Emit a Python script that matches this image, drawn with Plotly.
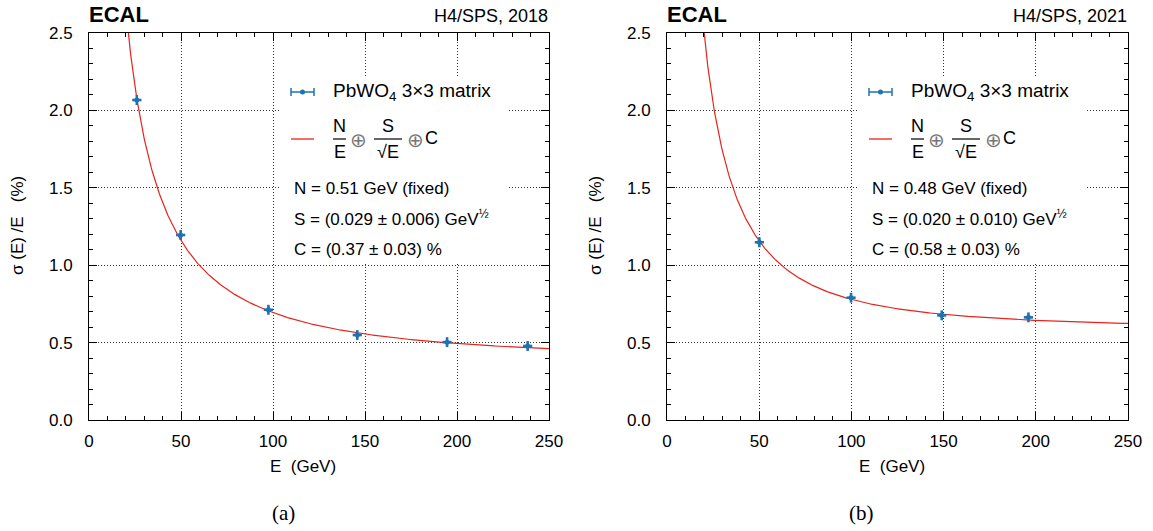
import numpy as np
import plotly.graph_objects as go

W, H = 1153, 531

# ---- data ----
E_2018 = [26.0, 49.8, 97.5, 145.8, 194.6, 238.4]
res_2018 = [2.067, 1.195, 0.712, 0.549, 0.503, 0.478]
E_2021 = [50.1, 99.8, 149.0, 196.0]
res_2021 = [1.148, 0.790, 0.676, 0.663]
ex_2018 = [2.5, 2.5, 2.5, 2.5, 2.5, 2.5]
ey_2018 = [0.032, 0.032, 0.032, 0.032, 0.032, 0.032]
ex_2021 = [2.5, 2.5, 2.5, 2.5]
ey_2021 = [0.032, 0.032, 0.032, 0.032]

# fit parameters shown on chart
fit_2018 = dict(N=0.51, S=0.029, C=0.37)   # N in GeV, S in GeV^1/2, C in %
fit_2021 = dict(N=0.48, S=0.020, C=0.58)
fit_text_2018 = ["N = 0.51 GeV (fixed)", "S = (0.029 ± 0.006) GeV<sup>½</sup>", "C = (0.37 ± 0.03) %"]
fit_text_2021 = ["N = 0.48 GeV (fixed)", "S = (0.020 ± 0.010) GeV<sup>½</sup>", "C = (0.58 ± 0.03) %"]
tops = ["H4/SPS, 2018", "H4/SPS, 2021"]
captions = ["(a)", "(b)"]
x_ticks = [0, 50, 100, 150, 200, 250]
y_ticks = [0.0, 0.5, 1.0, 1.5, 2.0, 2.5]

BLUE = "#1f72b0"
RED = "#e8231c"
FONT = "Liberation Sans, Arial, Helvetica, sans-serif"


def fit_curve(p):
    e = np.linspace(15, 250, 600)
    r = np.sqrt((100 * p["N"] / e) ** 2 + (100 * p["S"]) ** 2 / e + p["C"] ** 2)
    return e, r


def px(x):
    return x / W


def py(y):
    return 1 - y / H


# plot area in window pixels
L1, R1 = 89, 549
L2, R2 = 667, 1128
TOP, BOT = 33, 420

fig = go.Figure()

panels = [
    (E_2018, res_2018, ex_2018, ey_2018, fit_2018, "x", "y"),
    (E_2021, res_2021, ex_2021, ey_2021, fit_2021, "x2", "y2"),
]
for E, r, ex, ey, p, xa, ya in panels:
    ce, cr = fit_curve(p)
    fig.add_trace(go.Scatter(x=ce, y=cr, mode="lines", line=dict(color=RED, width=1.2),
                             xaxis=xa, yaxis=ya, showlegend=False, hoverinfo="skip"))
    fig.add_trace(go.Scatter(x=E, y=r, mode="markers",
                             marker=dict(color=BLUE, size=5),
                             error_x=dict(type="data", array=ex, color=BLUE, thickness=2.6, width=0),
                             error_y=dict(type="data", array=ey, color=BLUE, thickness=2.6, width=0),
                             xaxis=xa, yaxis=ya, showlegend=False))

axis_common = dict(
    showline=True, linecolor="black", linewidth=1, mirror="ticks",
    ticks="inside", ticklen=8, tickwidth=1, tickcolor="black",
    showgrid=True, gridcolor="#333", griddash="1px,2px", gridwidth=1,
    zeroline=False, automargin=False,
    tickfont=dict(family=FONT, size=17, color="black"),
)

fig.update_layout(
    width=W, height=H, margin=dict(l=0, r=0, t=0, b=0, autoexpand=False),
    paper_bgcolor="white", plot_bgcolor="white", showlegend=False,
    xaxis=dict(domain=[px(L1), px(R1)], range=[0, 250], tickvals=x_ticks,
               minor=dict(ticks="inside", ticklen=4, dtick=10, tickcolor="black", showgrid=False),
               anchor="y", ticklabelstandoff=6, **axis_common),
    yaxis=dict(domain=[py(BOT), py(TOP)], range=[0, 2.5], tickvals=y_ticks, tickformat=".1f",
               minor=dict(ticks="inside", ticklen=4, dtick=0.1, tickcolor="black", showgrid=False),
               anchor="x", ticklabelstandoff=12, **axis_common),
    xaxis2=dict(domain=[px(L2), px(R2)], range=[0, 250], tickvals=x_ticks,
                minor=dict(ticks="inside", ticklen=4, dtick=10, tickcolor="black", showgrid=False),
                anchor="y2", ticklabelstandoff=6, **axis_common),
    yaxis2=dict(domain=[py(BOT), py(TOP)], range=[0, 2.5], tickvals=y_ticks, tickformat=".1f",
                minor=dict(ticks="inside", ticklen=4, dtick=0.1, tickcolor="black", showgrid=False),
                anchor="x2", ticklabelstandoff=12, **axis_common),
)

ann = []
shapes = []


def text(x, y, s, size=17, xanchor="left", color="black", family=FONT, bold=False, angle=0):
    if bold:
        s = "<b>" + s + "</b>"
    ann.append(dict(x=px(x), y=py(y), xref="paper", yref="paper", text=s, showarrow=False,
                    xanchor=xanchor, yanchor="middle", textangle=angle,
                    font=dict(family=family, size=size, color=color)))


def hline(x0, x1, y, color="black", width=1):
    shapes.append(dict(type="line", xref="paper", yref="paper", x0=px(x0), x1=px(x1),
                       y0=py(y), y1=py(y), line=dict(color=color, width=width)))


for k, off in enumerate([0, L2 - L1]):
    L, R = (L1, R1) if k == 0 else (L2, R2)
    text(L - 2, 14, "ECAL", size=22, bold=True)
    text(R + 1, 16, tops[k], size=18, xanchor="right")
    # legend background box (hides grid)
    shapes.append(dict(type="rect", xref="paper", yref="paper", layer="above",
                       x0=px(281 + off), x1=px(507 + off), y0=py(263), y1=py(76),
                       fillcolor="white", line=dict(width=0)))
    # legend: error bar symbol
    hline(291 + off, 314 + off, 92, color=BLUE, width=1.5)
    shapes.append(dict(type="line", xref="paper", yref="paper", x0=px(291 + off), x1=px(291 + off),
                       y0=py(88), y1=py(96), line=dict(color=BLUE, width=1.5)))
    shapes.append(dict(type="line", xref="paper", yref="paper", x0=px(314 + off), x1=px(314 + off),
                       y0=py(88), y1=py(96), line=dict(color=BLUE, width=1.5)))
    shapes.append(dict(type="circle", xref="paper", yref="paper", x0=px(300 + off), x1=px(305 + off),
                       y0=py(89.5), y1=py(94.5), fillcolor=BLUE, line=dict(color=BLUE, width=0)))
    text(331 + off, 92, "PbWO<sub>4</sub> 3×3 matrix", size=19)
    # legend: fit line + formula
    hline(291 + off, 314 + off, 139, color=RED, width=1.3)
    text(339.5 + off, 126, "N", size=18, xanchor="center")
    hline(333 + off, 346 + off, 139, width=1.2)
    text(339.5 + off, 152, "E", size=18, xanchor="center")
    text(358.5 + off, 140, "⊕", size=20, xanchor="center", color="#777")
    text(387.5 + off, 126, "S", size=18, xanchor="center")
    hline(374 + off, 402 + off, 139, width=1.2)
    text(388 + off, 152, "√E", size=18, xanchor="center")
    text(415 + off, 140, "⊕", size=20, xanchor="center", color="#777")
    text(431.5 + off, 138, "C", size=18, xanchor="center")
    ft = fit_text_2018 if k == 0 else fit_text_2021
    for s, yy in zip(ft, [189, 218, 249]):
        text(292 + off, yy, s, size=17)
    # axis titles
    text((268 if k == 0 else 857), 466, "E  (GeV)", size=17)
    text(17 + off, 226, "σ (E) /E   (%)", size=17, xanchor="center", angle=-90)
    text(283 + off, 513, captions[k], size=21, xanchor="center",
         family="Liberation Serif, Times New Roman, serif")

fig.update_layout(annotations=ann, shapes=shapes)
# remove the page's default 8px body margin so the figure fills the window
fig.write_html("out.html", config={"displayModeBar": False},
               post_script="document.body.style.margin='0px';")
